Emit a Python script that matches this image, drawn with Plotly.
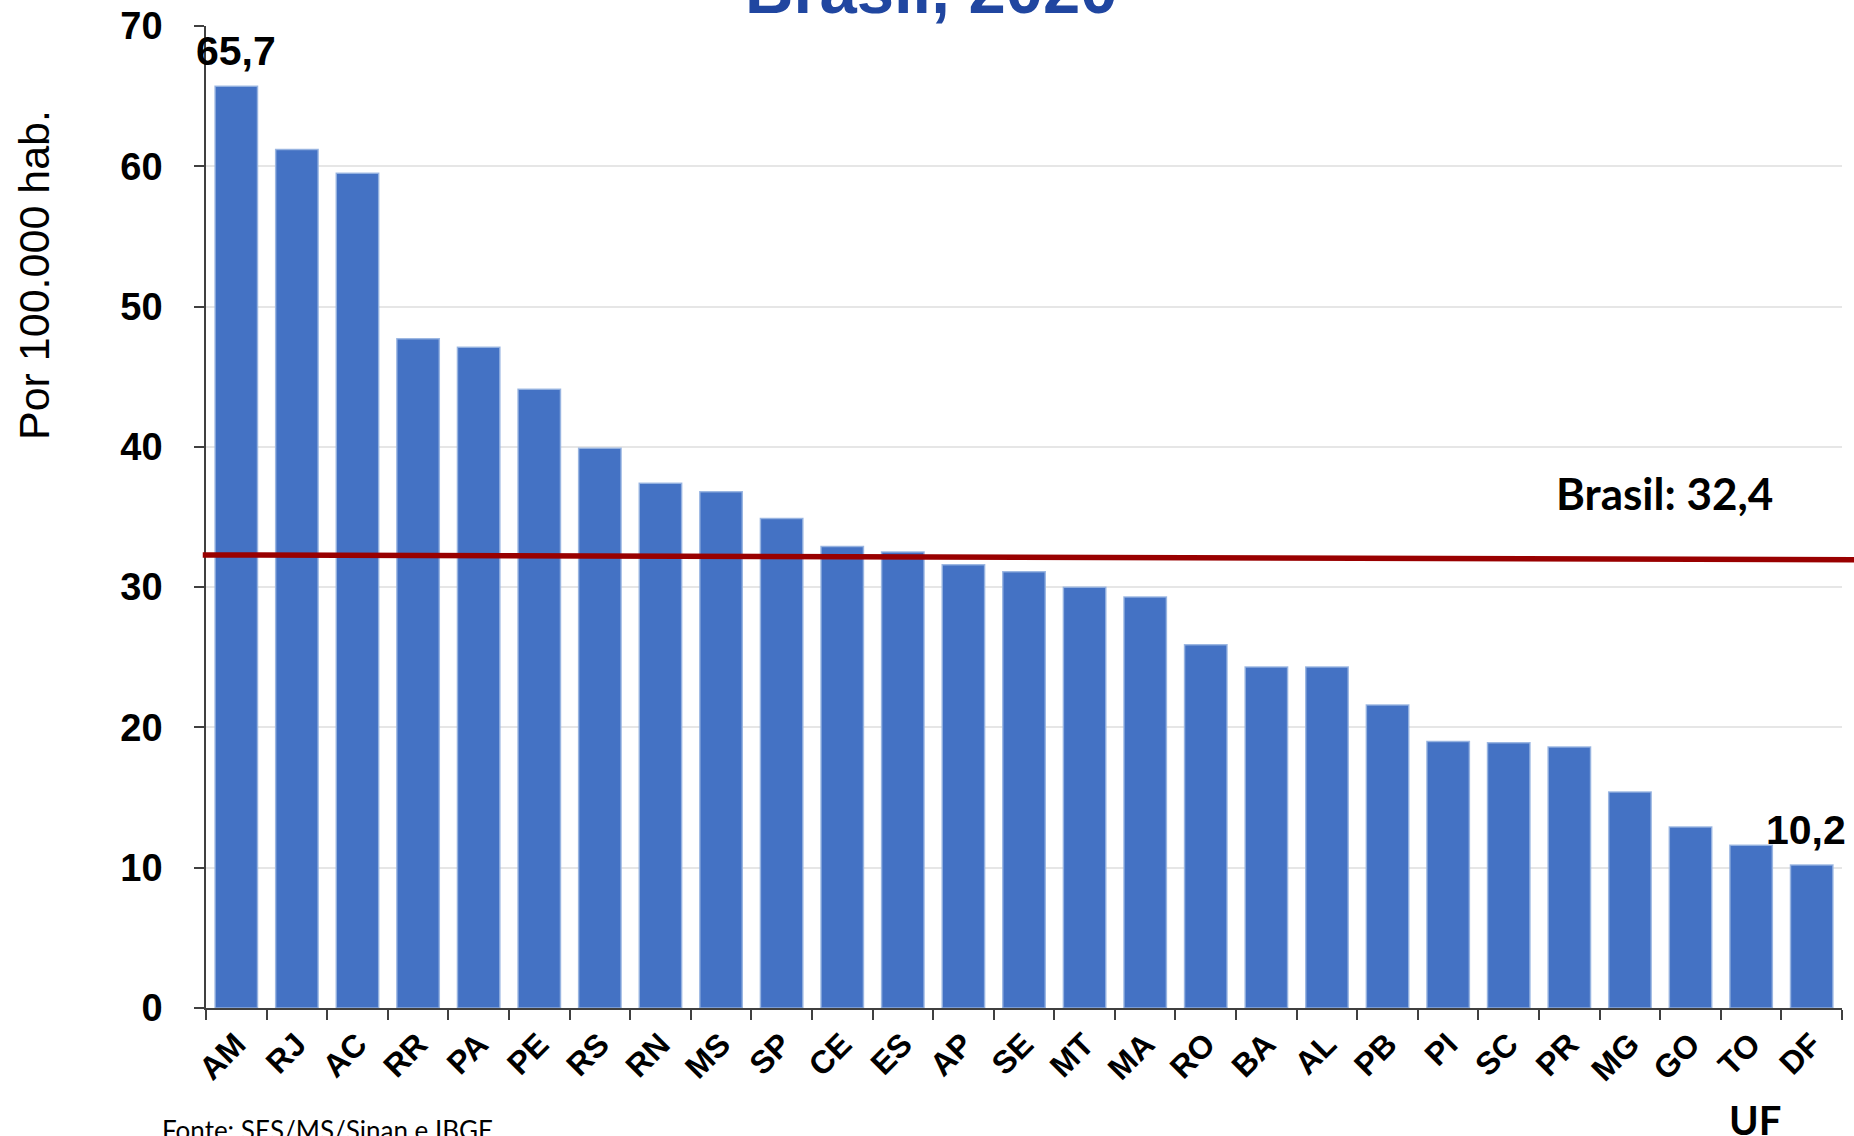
import plotly.graph_objects as go

# ---- data ----
ufs = ["AM", "RJ", "AC", "RR", "PA", "PE", "RS", "RN", "MS", "SP", "CE", "ES", "AP", "SE",
       "MT", "MA", "RO", "BA", "AL", "PB", "PI", "SC", "PR", "MG", "GO", "TO", "DF"]
taxa = [65.7, 61.2, 59.5, 47.7, 47.1, 44.1, 39.9, 37.4, 36.8, 34.9, 32.9, 32.5, 31.6, 31.1,
        30.0, 29.3, 25.9, 24.3, 24.3, 21.6, 19.0, 18.9, 18.6, 15.4, 12.9, 11.6, 10.2]
brasil = 32.4
brasil_line_ends = [32.3, 31.95]   # line as drawn in the reference (left, right)
y_ticks = [0, 10, 20, 30, 40, 50, 60, 70]

title_text = "Brasil, 2020"
y_title = "Por 100.000 hab."
x_title = "UF"
source_text = "Fonte: SES/MS/Sinan e IBGE"

bold_arial = "Liberation Sans, Arial, sans-serif"

fig = go.Figure()
fig.add_trace(go.Bar(
    x=ufs, y=taxa,
    marker=dict(color="#4472C4", line=dict(color="rgba(150,178,224,0.9)", width=1.5)),
    hoverinfo="x+y",
))

fig.update_layout(
    width=1854, height=1136,
    margin=dict(l=206, r=12, t=26, b=128, autoexpand=False),
    paper_bgcolor="white", plot_bgcolor="white",
    bargap=0.3,
    showlegend=False,
    font=dict(family=bold_arial, color="black"),
)

fig.update_xaxes(
    type="category",
    range=[-0.5, len(ufs) - 0.5],
    automargin=False,
    tickangle=-45,
    tickfont=dict(family=bold_arial, size=32, color="black", weight="bold"),
    ticks="outside", ticklen=10, tickcolor="#404040", tickwidth=1.5,
    ticklabelstandoff=3,
    tickson="boundaries",
    showline=True, linecolor="#404040", linewidth=1.5,
    showgrid=False,
)
fig.update_yaxes(
    range=[0, 70],
    automargin=False,
    tickvals=y_ticks,
    tickfont=dict(family=bold_arial, size=38, color="black", weight="bold"),
    ticks="outside", ticklen=10, tickcolor="#404040", tickwidth=1.5,
    ticklabelstandoff=24,
    showline=True, linecolor="#404040", linewidth=1.5,
    showgrid=True, gridcolor="#e6e6e6", gridwidth=1.5,
    zeroline=False,
)

# Brasil reference line
fig.add_shape(type="line", xref="paper", yref="y",
              x0=-0.002, x1=1.01, y0=brasil_line_ends[0], y1=brasil_line_ends[1],
              line=dict(color="#990000", width=5.5))

ann = []
# title (mostly cut off at the top, as in the reference)
ann.append(dict(text="<b>" + title_text + "</b>", xref="paper", yref="paper",
                x=(931 - 206) / 1636, y=1, yshift=-3, xanchor="center", yanchor="bottom",
                showarrow=False, font=dict(family=bold_arial, size=67, color="#2046A0")))
# y axis title
ann.append(dict(text=y_title, xref="paper", yref="paper", x=-(206 - 34) / 1636, y=(1008 - 275) / 982,
                xanchor="center", yanchor="middle", textangle=-90, showarrow=False,
                font=dict(family=bold_arial, size=43, color="black")))
# data labels for first and last
for i, xs in ((0, 0), (len(ufs) - 1, -6)):
    ann.append(dict(text="<b>" + f"{taxa[i]:.1f}".replace(".", ",") + "</b>",
                    x=ufs[i], y=taxa[i], xref="x", yref="y",
                    xanchor="center", yanchor="bottom", yshift=10, xshift=xs, showarrow=False,
                    font=dict(family=bold_arial, size=41, color="black")))
# Brasil label
ann.append(dict(text="<b>Brasil: " + f"{brasil:.1f}".replace(".", ",") + "</b>",
                xref="paper", yref="y", x=(1664 - 206) / 1636, y=brasil,
                xanchor="center", yanchor="bottom", yshift=32, showarrow=False,
                font=dict(family="Lato, sans-serif", size=44, color="black")))
# x title
ann.append(dict(text="<b>" + x_title + "</b>", xref="paper", yref="paper",
                x=(1755 - 206) / 1636, y=-(1094 - 1008) / 982,
                xanchor="center", yanchor="top", showarrow=False,
                font=dict(family="Lato, sans-serif", size=40, color="black")))
# source
ann.append(dict(text=source_text, xref="paper", yref="paper",
                x=(160 - 206) / 1636, y=-(1112 - 1008) / 982,
                xanchor="left", yanchor="top", showarrow=False,
                font=dict(family="Lato, sans-serif", size=26, color="black")))
fig.update_layout(annotations=ann)

fig.write_html("out.html",
               config={"displayModeBar": False},
               post_script="document.body.style.margin='0';document.body.style.overflow='hidden';")
